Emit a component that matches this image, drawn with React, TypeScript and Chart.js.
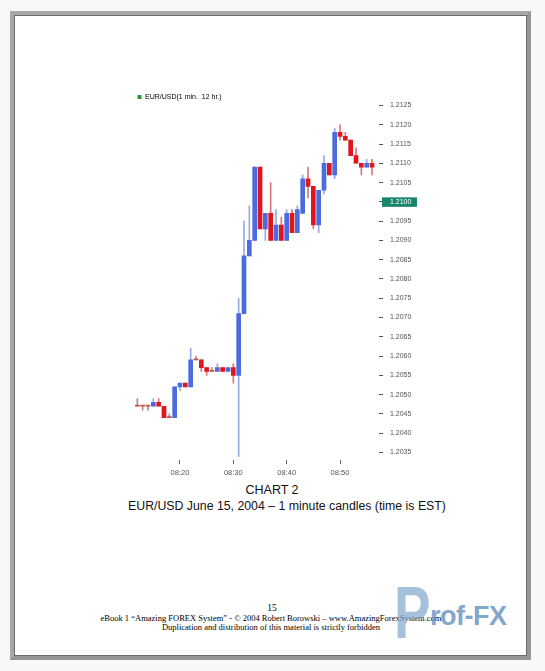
import React, { useEffect, useRef } from 'react';
import { Chart, registerables } from 'chart.js';

Chart.register(...registerables);

// ---- data ----
const times = [
  '08:12', '08:13', '08:14', '08:15', '08:16', '08:17', '08:18', '08:19', '08:20', '08:21',
  '08:22', '08:23', '08:24', '08:25', '08:26', '08:27', '08:28', '08:29', '08:30', '08:31',
  '08:32', '08:33', '08:34', '08:35', '08:36', '08:37', '08:38', '08:39', '08:40', '08:41',
  '08:42', '08:43', '08:44', '08:45', '08:46', '08:47', '08:48', '08:49', '08:50', '08:51',
  '08:52', '08:53', '08:54', '08:55', '08:56',
];
const opens = [
  1.2047, 1.2047, 1.2047, 1.2047, 1.2048, 1.2047, 1.2044, 1.2044, 1.2052, 1.2053,
  1.2052, 1.2059, 1.2059, 1.2057, 1.2056, 1.2056, 1.2057, 1.2056, 1.2057, 1.2055,
  1.2071, 1.2086, 1.2090, 1.2109, 1.2093, 1.2097, 1.2090, 1.2094, 1.2090, 1.2097,
  1.2092, 1.2097, 1.2106, 1.2104, 1.2094, 1.2103, 1.2110, 1.2107, 1.2118, 1.2117,
  1.2116, 1.2112, 1.2110, 1.2109, 1.2110,
];
const highs = [
  1.2049, 1.2047, 1.2047, 1.2049, 1.2049, 1.2047, 1.2045, 1.2052, 1.2053, 1.2053,
  1.2062, 1.2060, 1.2059, 1.2057, 1.2057, 1.2058, 1.2057, 1.2057, 1.2058, 1.2075,
  1.2095, 1.2099, 1.2109, 1.2109, 1.2097, 1.2105, 1.2098, 1.2096, 1.2098, 1.2098,
  1.2099, 1.2107, 1.2109, 1.2104, 1.2103, 1.2112, 1.2110, 1.2119, 1.2120, 1.2118,
  1.2116, 1.2114, 1.2110, 1.2111, 1.2111,
];
const lows = [
  1.2047, 1.2046, 1.2046, 1.2047, 1.2047, 1.2044, 1.2044, 1.2044, 1.2051, 1.2052,
  1.2052, 1.2059, 1.2056, 1.2055, 1.2056, 1.2056, 1.2056, 1.2056, 1.2053, 1.2034,
  1.2071, 1.2086, 1.2090, 1.2093, 1.2090, 1.2090, 1.2090, 1.2090, 1.2090, 1.2092,
  1.2092, 1.2097, 1.2101, 1.2093, 1.2092, 1.2102, 1.2107, 1.2106, 1.2116, 1.2116,
  1.2112, 1.2110, 1.2107, 1.2109, 1.2107,
];
const closes = [
  1.2047, 1.2047, 1.2047, 1.2048, 1.2047, 1.2044, 1.2044, 1.2052, 1.2053, 1.2052,
  1.2059, 1.2059, 1.2057, 1.2056, 1.2056, 1.2057, 1.2056, 1.2057, 1.2055, 1.2071,
  1.2086, 1.2090, 1.2109, 1.2093, 1.2097, 1.2090, 1.2094, 1.2090, 1.2097, 1.2092,
  1.2098, 1.2106, 1.2104, 1.2094, 1.2103, 1.2110, 1.2107, 1.2118, 1.2117, 1.2116,
  1.2112, 1.2110, 1.2109, 1.2110, 1.2109,
];
const yTickValues = [
  1.2035, 1.2040, 1.2045, 1.2050, 1.2055, 1.2060, 1.2065, 1.2070, 1.2075, 1.2080,
  1.2085, 1.2090, 1.2095, 1.2100, 1.2105, 1.2110, 1.2115, 1.2120, 1.2125,
];
const xTickLabels = ['08:20', '08:30', '08:40', '08:50'];
const markerPrice = 1.2100;
const seriesName = 'EUR/USD(1 min.  12 hr.)';

// ---- styling ----
const UP_BODY = '#4b6ce0';
const DOWN_BODY = '#e2141d';
const DOJI_BODY = '#b4584c';
const UP_WICK = '#9aa8e6';
const DOWN_WICK = '#d9777a';
const DOJI_WICK = '#c08a80';
const SANS = 'Arial, "Liberation Sans", sans-serif';

const toMinute = (t: string) => {
  const [h, m] = t.split(':').map(Number);
  return (h - 8) * 60 + m;
};
const minuteLabel = (v: number) => {
  const h = 8 + Math.floor(v / 60);
  const m = v % 60;
  return String(h).padStart(2, '0') + ':' + String(m).padStart(2, '0');
};

const markerPlugin = {
  id: 'priceMarker',
  afterDraw(chart: any) {
    const { ctx, chartArea, scales } = chart;
    const y = scales.y.getPixelForValue(markerPrice);
    const x0 = chartArea.right + 3;
    ctx.save();
    ctx.fillStyle = '#16876b';
    ctx.fillRect(x0, y - 4.5, 35, 9.5);
    ctx.fillStyle = '#ffffff';
    ctx.font = '7px ' + SANS;
    ctx.textBaseline = 'middle';
    ctx.textAlign = 'left';
    ctx.fillText(markerPrice.toFixed(4), chartArea.right + 11, y + 0.5);
    ctx.restore();
  },
};

function CandleChart() {
  const ref = useRef<HTMLCanvasElement | null>(null);
  useEffect(() => {
    if (!ref.current) return;
    const xs = times.map(toMinute);
    const kind = opens.map((o, i) => (closes[i] > o ? 1 : closes[i] < o ? -1 : 0));
    const bodyColors = kind.map((k) => (k > 0 ? UP_BODY : k < 0 ? DOWN_BODY : DOJI_BODY));
    const wickColors = kind.map((k) => (k > 0 ? UP_WICK : k < 0 ? DOWN_WICK : DOJI_WICK));
    const xTicks = xTickLabels.map(toMinute);

    const chart = new Chart(ref.current, {
      type: 'bar',
      data: {
        datasets: [
          {
            label: 'body',
            data: xs.map((x, i) => ({ x, y: [Math.min(opens[i], closes[i]), Math.max(opens[i], closes[i])] })) as any,
            backgroundColor: bodyColors,
            borderWidth: 0,
            barThickness: 4,
            minBarLength: 1.2,
            grouped: false,
          } as any,
          {
            label: 'wick',
            data: xs.map((x, i) => ({ x, y: [lows[i], highs[i]] })) as any,
            backgroundColor: wickColors,
            borderWidth: 0,
            barThickness: 1,
            minBarLength: 1,
            grouped: false,
          } as any,
        ],
      },
      options: {
        responsive: false,
        animation: false,
        layout: { padding: 0 },
        plugins: {
          legend: {
            display: true,
            position: 'top',
            align: 'start',
            maxHeight: 12.6,
            labels: {
              boxWidth: 4,
              boxHeight: 4,
              padding: 4.5,
              color: '#9db0d2',
              font: { size: 7, family: SANS },
              generateLabels: () => [
                {
                  text: seriesName,
                  fillStyle: '#2e9b35',
                  strokeStyle: '#2e9b35',
                  lineWidth: 0,
                  hidden: false,
                  datasetIndex: 0,
                } as any,
              ],
            },
            onClick: () => {},
          } as any,
          tooltip: { enabled: false },
        },
        scales: {
          x: {
            type: 'linear',
            min: 11.19,
            max: 57.31,
            offset: false,
            bounds: 'data',
            afterBuildTicks: (s: any) => {
              s.ticks = xTicks.map((v) => ({ value: v }));
            },
            afterFit: (s: any) => {
              s.height = 21.8;
            },
            ticks: {
              autoSkip: false,
              maxRotation: 0,
              padding: 4.5,
              color: '#555',
              font: { size: 7.5, family: SANS },
              callback: (v: any) => minuteLabel(Number(v)),
            },
            grid: { drawOnChartArea: false, drawTicks: true, tickLength: 4, color: '#666', offset: false },
            border: { display: false },
          } as any,
          y: {
            type: 'linear',
            position: 'right',
            min: 1.2033,
            max: 1.2126,
            bounds: 'data',
            afterBuildTicks: (s: any) => {
              s.ticks = yTickValues.map((v) => ({ value: v }));
            },
            afterFit: (s: any) => {
              s.width = 50;
            },
            ticks: {
              autoSkip: false,
              padding: 7,
              color: '#555',
              font: { size: 7, family: SANS },
              callback: (v: any) => Number(v).toFixed(4),
            },
            grid: { drawOnChartArea: false, drawTicks: true, tickLength: 4, color: '#555' },
            border: { display: false },
          } as any,
        },
      },
      plugins: [markerPlugin],
    });
    return () => chart.destroy();
  }, []);
  return (
    <canvas
      ref={ref}
      width={296}
      height={393}
      style={{ position: 'absolute', left: 133, top: 89, width: 296, height: 393 }}
    />
  );
}

export default function App() {
  const serif = '"Liberation Serif", "Times New Roman", serif';
  return (
    <div
      style={{
        position: 'absolute',
        left: 0,
        top: 0,
        width: 545,
        height: 671,
        background: '#f8f8f8',
        overflow: 'hidden',
      }}
    >
      <div
        style={{
          position: 'absolute',
          left: 10,
          top: 11,
          width: 521,
          height: 649,
          boxSizing: 'border-box',
          background: '#ffffff',
          borderLeft: '4px solid #a8a8a8',
          borderTop: '4px solid #a8a8a8',
          borderRight: '4px solid #959595',
          borderBottom: '4px solid #959595',
        }}
      >
        <div style={{ position: 'absolute', inset: 0, border: '1px solid #6c6c6c' }} />
      </div>

      <CandleChart />

      <div
        style={{
          position: 'absolute',
          left: 122,
          width: 300,
          top: 482,
          textAlign: 'center',
          font: '12.5px ' + SANS,
          lineHeight: '16px',
          color: '#111',
        }}
      >
        CHART 2
      </div>
      <div
        style={{
          position: 'absolute',
          left: 87,
          width: 400,
          top: 498,
          textAlign: 'center',
          font: '12.3px ' + SANS,
          lineHeight: '16px',
          color: '#111',
          whiteSpace: 'nowrap',
        }}
      >
        EUR/USD June 15, 2004 – 1 minute candles (time is EST)
      </div>

      <div
        style={{
          position: 'absolute',
          left: 172,
          width: 200,
          top: 603,
          textAlign: 'center',
          font: '9.5px ' + serif,
          lineHeight: '11px',
          color: '#000',
        }}
      >
        15
      </div>
      <div
        style={{
          position: 'absolute',
          left: 21,
          width: 500,
          top: 613,
          textAlign: 'center',
          font: '8.5px ' + serif,
          lineHeight: '10px',
          color: '#000',
          whiteSpace: 'nowrap',
        }}
      >
        eBook 1 “Amazing FOREX System” - © 2004 Robert Borowski – www.AmazingForexSystem.com
      </div>
      <div
        style={{
          position: 'absolute',
          left: 21,
          width: 500,
          top: 622,
          textAlign: 'center',
          font: '8.5px ' + serif,
          lineHeight: '10px',
          color: '#000',
          whiteSpace: 'nowrap',
        }}
      >
        Duplication and distribution of this material is strictly forbidden
      </div>

      <div
        style={{
          position: 'absolute',
          left: 394,
          top: 576,
          font: 'bold 74px ' + SANS,
          lineHeight: '74px',
          color: 'rgba(130,166,206,0.7)',
          transform: 'scaleX(0.74)',
          transformOrigin: 'left top',
        }}
      >
        P
      </div>
      <div
        style={{
          position: 'absolute',
          left: 430,
          top: 601,
          font: 'bold 27px ' + SANS,
          lineHeight: '30px',
          color: 'rgba(110,150,196,0.85)',
          letterSpacing: '-0.5px',
        }}
      >
        rof-FX
      </div>
    </div>
  );
}
